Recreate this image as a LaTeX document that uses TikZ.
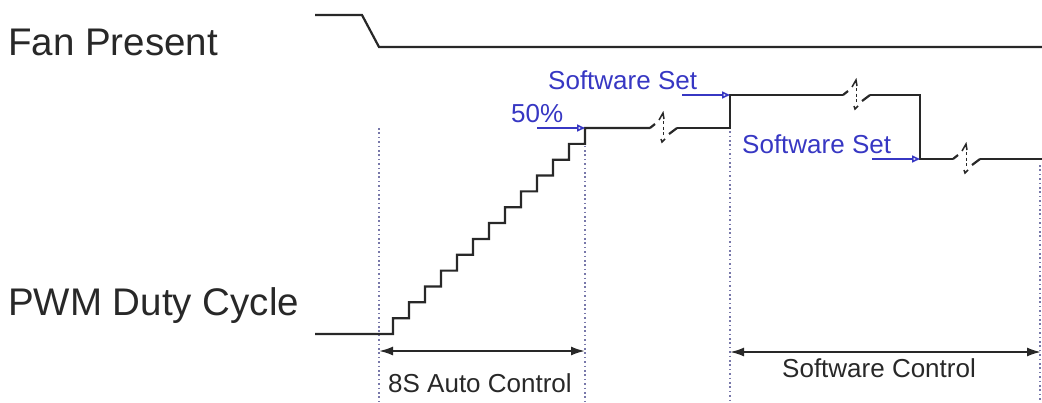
\documentclass[tikz,border=0pt]{standalone}
\usepackage{fontspec}
\setmainfont{Liberation Sans}
\usetikzlibrary{arrows.meta}
\definecolor{sigcol}{RGB}{40,40,40}
\definecolor{bluecol}{RGB}{55,55,195}
\definecolor{dotcol}{RGB}{120,120,170}
\tikzset{
  sig/.style={draw=sigcol,line width=2.2pt,line join=miter},
  bluearr/.style={draw=bluecol,line width=1.6pt,-{Triangle[open,length=8pt,width=7pt]}},
  guide/.style={draw=dotcol,line width=1.6pt,dash pattern=on 1.6pt off 2.8pt},
  dim/.style={draw=sigcol,line width=2pt,{Latex[length=14pt,width=9pt]}-{Latex[length=14pt,width=9pt]}},
  biglbl/.style={font=\fontsize{38.5}{40}\selectfont,text=sigcol,inner sep=0pt,anchor=base west},
  smalllbl/.style={font=\fontsize{26}{28}\selectfont,text=sigcol,inner sep=0pt,anchor=base west},
  bluelbl/.style={font=\fontsize{26}{28}\selectfont,text=bluecol,inner sep=0pt,anchor=base west},
  brk/.pic={
    \draw[sig] (0,0)--(5,-4);
    \draw[sig,line width=1.5pt] (9,-8)--(13,-15)--(14,-9);
    \draw[sig,line width=1.5pt,dash pattern=on 3pt off 2.5pt] (13.5,-7)--(13.5,9);
    \draw[sig,line width=1.5pt] (15,11)--(12,14)--(11,11);
    \draw[sig] (19,6)--(27,0);
  }
}
\begin{document}
\begin{tikzpicture}[x=1pt,y=-1pt]
\useasboundingbox (0,0) rectangle (1042,402);
% labels
\node[biglbl] (fan) at (8,55) {Fan Present};
\node[biglbl] (pwm) at (8,315) {PWM Duty Cycle};
% guides
\draw[guide] (379,128) -- (379,402);
\draw[guide] (585,128) -- (585,402);
\draw[guide] (730,96) -- (730,402);
\draw[guide] (1040,165) -- (1040,402);
% fan present signal
\draw[sig] (315,15) -- (362,15) -- (379,47) -- (1042,47);
% pwm signal
\draw[sig] (315,334) -- (393,334)
  \foreach \k in {0,...,12} { -- ({393+16*\k},{334-15.846*\k}) -- ({393+16*\k},{334-15.846*(\k+1)}) }
  -- (650,128);
\pic at (650,128) {brk};
\draw[sig] (677,128) -- (730,128) -- (730,95) -- (843,95);
\pic at (843,95) {brk};
\draw[sig] (870,95) -- (920,95) -- (920,159) -- (953,159);
\pic at (953,159) {brk};
\draw[sig] (980,159) -- (1042,159);
% blue annotations
\coordinate (p50a) at (537,128); \coordinate (p50b) at (585,128);
\coordinate (s1a) at (682,95);   \coordinate (s1b) at (730,95);
\coordinate (s2a) at (872,159);  \coordinate (s2b) at (920,159);
\draw[bluearr] (p50a) -- (p50b);
\draw[bluearr] (s1a) -- (s1b);
\draw[bluearr] (s2a) -- (s2b);
\node[bluelbl] (t50) at (511,122) {50\%};
\node[bluelbl] (tss1) at (548,89) {Software Set};
\node[bluelbl] (tss2) at (742,153) {Software Set};
% dimension arrows
\coordinate (d1a) at (379,351); \coordinate (d1b) at (585,351);
\coordinate (d2a) at (730,352); \coordinate (d2b) at (1041,352);
\draw[dim] (d1a) -- (d1b);
\draw[dim] (d2a) -- (d2b);
\node[smalllbl] (auto) at (388,392) {8S Auto Control};
\node[smalllbl] (sw) at (782,377) {Software Control};
\end{tikzpicture}
\end{document}
